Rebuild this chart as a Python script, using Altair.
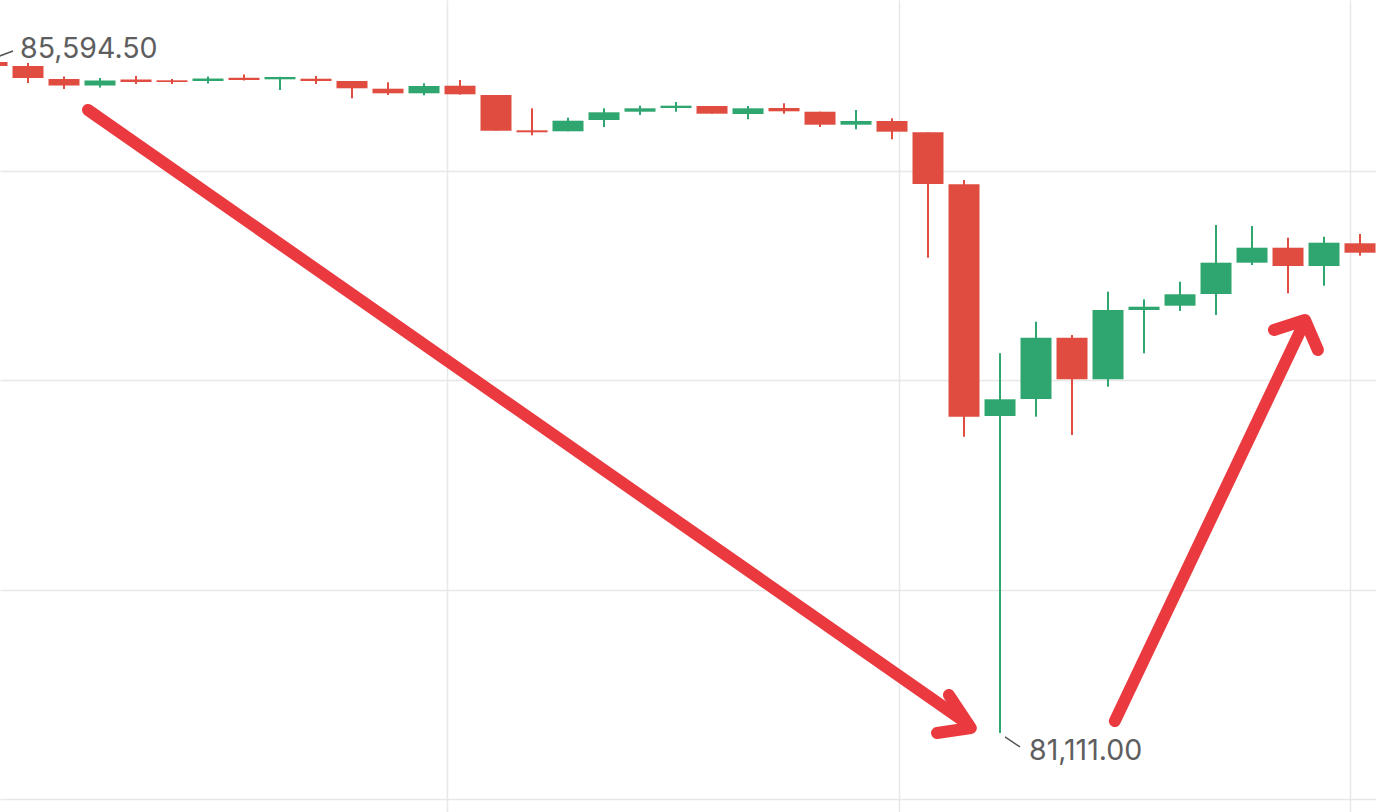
import altair as alt
import pandas as pd

# 15-minute candles, oldest first
idx = list(range(39))
opens = [85587.8, 85561.1, 85474.4, 85431.0, 85471.1, 85465.7, 85461.1, 85483.1, 85472.4, 85476.4,
         85461.1, 85409.7, 85379.0, 85429.7, 85367.7, 85132.1, 85125.5, 85200.9, 85256.2, 85280.9,
         85294.3, 85240.9, 85280.9, 85256.2, 85169.5, 85194.2, 85118.8, 84771.8, 83226.0, 83339.4,
         83748.5, 83470.8, 83933.2, 83961.9, 84040.1, 84248.8, 84348.8, 84226.7, 84378.2]
highs = [85594.5, 85581.2, 85491.1, 85481.1, 85494.4, 85474.4, 85491.1, 85504.4, 85489.0, 85494.4,
         85461.1, 85452.4, 85445.7, 85467.7, 85367.7, 85278.9, 85216.2, 85278.9, 85296.3, 85320.9,
         85294.3, 85294.3, 85312.3, 85256.2, 85267.6, 85212.2, 85118.8, 84800.5, 83644.4, 83855.1,
         83766.4, 84055.3, 84004.5, 84122.0, 84500.3, 84493.6, 84415.6, 84422.2, 84440.2]
lows = [85554.5, 85447.7, 85407.7, 85417.7, 85441.0, 85441.0, 85444.4, 85464.4, 85401.0, 85441.0,
        85345.6, 85367.7, 85365.7, 85370.0, 85129.5, 85098.8, 85125.5, 85154.2, 85234.2, 85256.2,
        85242.9, 85205.5, 85242.9, 85154.2, 85138.8, 85072.1, 84282.1, 83087.9, 81111.0, 83221.3,
        83099.2, 83421.4, 83644.4, 83926.5, 83899.8, 84233.4, 84044.7, 84095.3, 84295.5]
closes = [85561.1, 85481.1, 85431.0, 85464.4, 85454.4, 85454.4, 85477.7, 85467.7, 85487.7, 85461.1,
          85412.4, 85379.0, 85427.7, 85372.3, 85129.5, 85118.8, 85196.2, 85252.2, 85278.9, 85296.3,
          85242.9, 85278.9, 85258.9, 85169.5, 85194.2, 85122.8, 84773.8, 83221.3, 83337.4, 83748.5,
          83470.8, 83933.2, 83955.2, 84038.0, 84248.8, 84348.8, 84226.7, 84382.2, 84315.5]

# hand-drawn arrows, as (candle index, price) polylines
arrow_seg = ["a1", "a1", "a1h", "a1h", "a1h", "a2", "a2", "a2h", "a2h", "a2h"]
arrow_i = [2.667, 27.11, 26.58, 27.19, 26.25, 31.19, 36.42, 35.61, 36.47, 36.83]
arrow_p = [85267.6, 81171.0, 81364.5, 81144.3, 81111.0, 81191.0, 83833.1, 83799.7, 83866.5, 83666.3]

x_grid = [12.64, 25.19, 37.72]
y_grid = [84860.6, 83466.1, 82065.0, 80670.5]

UP = "#2fa66f"
DOWN = "#e04c40"

df = pd.DataFrame({"i": idx, "open": opens, "high": highs, "low": lows, "close": closes})
df["dir"] = ["up" if c >= o else "down" for o, c in zip(opens, closes)]

arrows = pd.DataFrame({"seg": arrow_seg, "i": arrow_i, "p": arrow_p, "ord": list(range(len(arrow_i)))})

hi_i = idx[highs.index(max(highs))]
lo_i = idx[lows.index(min(lows))]
marks = pd.DataFrame({
    "i": [hi_i, lo_i],
    "p": [max(highs), min(lows)],
    "label": [f"{max(highs):,.2f}", f"{min(lows):,.2f}"],
})

# the first candle sits partly off the left edge of the view
xs = alt.Scale(domain=[0.2222, 38.444], nice=False, zero=False, padding=0)
ys = alt.Scale(domain=[80583.9, 86001.5], nice=False, zero=False, padding=0)
color = alt.Color("dir:N", scale=alt.Scale(domain=["up", "down"], range=[UP, DOWN]), legend=None)

xax = alt.Axis(values=x_grid, labels=False, ticks=False, domain=False, title=None,
               grid=True, gridColor="#e8e8e8", gridWidth=1.5)
yax = alt.Axis(values=y_grid, labels=False, ticks=False, domain=False, title=None,
               grid=True, gridColor="#e8e8e8", gridWidth=1.5)

base = alt.Chart(df)

wicks = base.mark_rule(strokeWidth=2).encode(
    x=alt.X("i:Q", scale=xs, axis=xax),
    y=alt.Y("low:Q", scale=ys, axis=yax),
    y2="high:Q",
    color=color,
)

bodies = base.mark_bar(width=31).encode(
    x=alt.X("i:Q", scale=xs),
    y=alt.Y("open:Q", scale=ys),
    y2="close:Q",
    color=color,
)

mk = alt.Chart(marks)
hi_leader = mk.transform_filter(alt.datum.i == hi_i).mark_rule(
    color="#555555", strokeWidth=1.5, xOffset=5, yOffset=-4, x2Offset=21, y2Offset=-10
).encode(x=alt.X("i:Q", scale=xs), x2="i:Q", y=alt.Y("p:Q", scale=ys), y2="p:Q")
lo_leader = mk.transform_filter(alt.datum.i == lo_i).mark_rule(
    color="#555555", strokeWidth=1.5, xOffset=5, yOffset=4, x2Offset=20, y2Offset=14
).encode(x=alt.X("i:Q", scale=xs), x2="i:Q", y=alt.Y("p:Q", scale=ys), y2="p:Q")

hi_text = mk.transform_filter(alt.datum.i == hi_i).mark_text(
    align="left", baseline="alphabetic", dx=28, dy=-3, font="Inter", fontSize=28.5, color="#5e5e5e"
).encode(x=alt.X("i:Q", scale=xs), y=alt.Y("p:Q", scale=ys), text="label:N")
lo_text = mk.transform_filter(alt.datum.i == lo_i).mark_text(
    align="left", baseline="alphabetic", dx=29, dy=27, font="Inter", fontSize=28.5, color="#5e5e5e"
).encode(x=alt.X("i:Q", scale=xs), y=alt.Y("p:Q", scale=ys), text="label:N")

arrow_lines = alt.Chart(arrows).mark_line(
    color="#ea3a3f", strokeWidth=12, strokeCap="round", strokeJoin="round"
).encode(
    x=alt.X("i:Q", scale=xs),
    y=alt.Y("p:Q", scale=ys),
    detail="seg:N",
    order="ord:Q",
)

chart = alt.layer(wicks, bodies, hi_leader, lo_leader, hi_text, lo_text, arrow_lines).properties(
    width=1376, height=812, padding=0, autosize=alt.AutoSizeParams(type="none"),
    background="white",
).configure_view(stroke=None)

chart.save("out.html", embed_options={"renderer": "svg", "actions": False})
